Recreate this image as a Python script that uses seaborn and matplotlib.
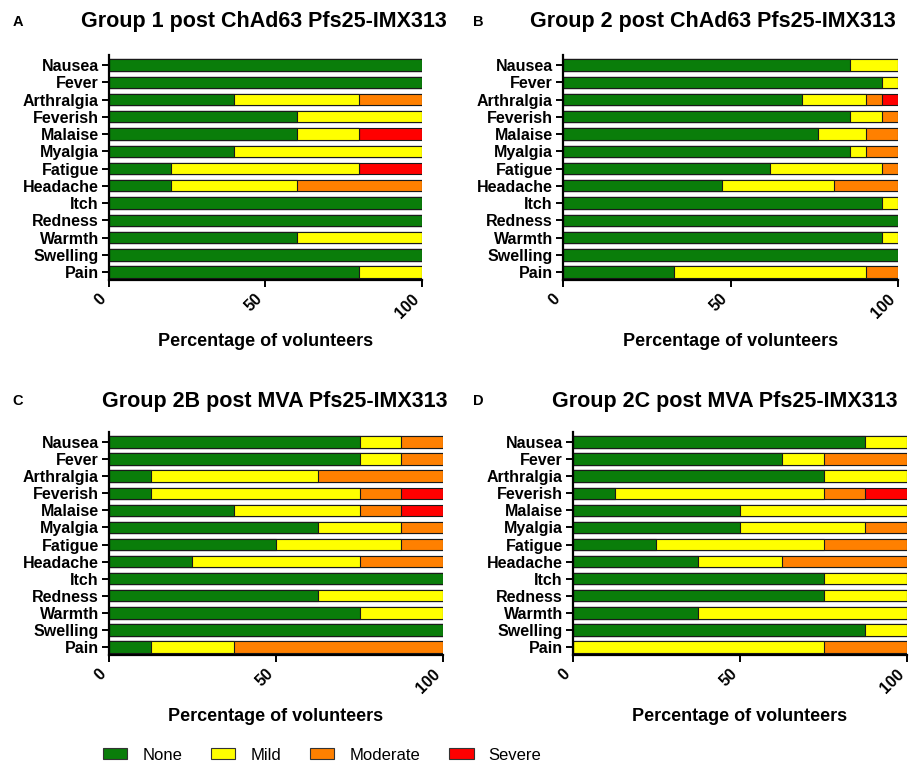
import numpy as np
import pandas as pd
import matplotlib
matplotlib.use("Agg")
import matplotlib.pyplot as plt
from matplotlib.patches import Patch
import seaborn as sns

# Solicited adverse events, percentage of volunteers per maximum severity
symptoms = ["Nausea", "Fever", "Arthralgia", "Feverish", "Malaise", "Myalgia",
            "Fatigue", "Headache", "Itch", "Redness", "Warmth", "Swelling", "Pain"]
severity = ["None", "Mild", "Moderate", "Severe"]
severity_colors = ["#0A7D0A", "#FFFF00", "#FF8000", "#FF0000"]

titles = ["Group 1 post ChAd63 Pfs25-IMX313",
          "Group 2 post ChAd63 Pfs25-IMX313",
          "Group 2B post MVA Pfs25-IMX313",
          "Group 2C post MVA Pfs25-IMX313"]
panel_letters = ["A", "B", "C", "D"]

# Group 1 (ChAd63)
g1_none     = [100, 100, 40, 60, 60, 40, 20, 20, 100, 100, 60, 100, 80]
g1_mild     = [0, 0, 40, 40, 20, 60, 60, 40, 0, 0, 40, 0, 20]
g1_moderate = [0, 0, 20, 0, 0, 0, 0, 40, 0, 0, 0, 0, 0]
g1_severe   = [0, 0, 0, 0, 20, 0, 20, 0, 0, 0, 0, 0, 0]

# Group 2 (ChAd63)
g2_none     = [85.7, 95.2, 71.4, 85.7, 76.2, 85.7, 61.9, 47.6, 95.2, 100, 95.2, 100, 33.3]
g2_mild     = [14.3, 4.8, 19.0, 9.5, 14.3, 4.8, 33.3, 33.3, 4.8, 0, 4.8, 0, 57.1]
g2_moderate = [0, 0, 4.8, 4.8, 9.5, 9.5, 4.8, 19.1, 0, 0, 0, 0, 9.6]
g2_severe   = [0, 0, 4.8, 0, 0, 0, 0, 0, 0, 0, 0, 0, 0]

# Group 2B (MVA)
g2b_none     = [75, 75, 12.5, 12.5, 37.5, 62.5, 50, 25, 100, 62.5, 75, 100, 12.5]
g2b_mild     = [12.5, 12.5, 50, 62.5, 37.5, 25, 37.5, 50, 0, 37.5, 25, 0, 25]
g2b_moderate = [12.5, 12.5, 37.5, 12.5, 12.5, 12.5, 12.5, 25, 0, 0, 0, 0, 62.5]
g2b_severe   = [0, 0, 0, 12.5, 12.5, 0, 0, 0, 0, 0, 0, 0, 0]

# Group 2C (MVA)
g2c_none     = [87.5, 62.5, 75, 12.5, 50, 50, 25, 37.5, 75, 75, 37.5, 87.5, 0]
g2c_mild     = [12.5, 12.5, 25, 62.5, 50, 37.5, 50, 25, 25, 25, 62.5, 12.5, 75]
g2c_moderate = [0, 25, 0, 12.5, 0, 12.5, 25, 37.5, 0, 0, 0, 0, 25]
g2c_severe   = [0, 0, 0, 12.5, 0, 0, 0, 0, 0, 0, 0, 0, 0]

groups = [
    (g1_none, g1_mild, g1_moderate, g1_severe),
    (g2_none, g2_mild, g2_moderate, g2_severe),
    (g2b_none, g2b_mild, g2b_moderate, g2b_severe),
    (g2c_none, g2c_mild, g2c_moderate, g2c_severe),
]

sns.set_style("ticks")
plt.rcParams["font.family"] = ["Liberation Sans", "DejaVu Sans"]
plt.rcParams.update({
    "axes.linewidth": 1.6,
    "axes.edgecolor": "black",
    "text.color": "black",
    "axes.labelcolor": "black",
    "xtick.color": "black",
    "ytick.color": "black",
})

W, H = 915, 761
fig = plt.figure(figsize=(W / 100, H / 100), dpi=100)

# axes boxes in pixels: left, top, right, bottom
boxes = [(108.7, 55, 421.7, 280),
         (562.7, 55, 898.3, 280),
         (108.7, 432, 443.3, 655),
         (572.7, 432, 907.3, 655)]
title_pos = [(264, 22), (713, 22), (275, 401), (725, 401)]
letter_pos = [(18, 22), (478, 22), (18, 401), (478, 401)]

for i, (vals, box) in enumerate(zip(groups, boxes)):
    l, t, r, b = box
    ax = fig.add_axes([l / W, 1 - b / H, (r - l) / W, (b - t) / H])
    df = pd.DataFrame({"Symptom": symptoms})
    cum = np.zeros(len(symptoms))
    for name, v in zip(severity, vals):
        cum = cum + np.asarray(v, dtype=float)
        df[name] = np.minimum(cum, 100)
    # stacked bars: draw cumulative totals from the outermost category inward
    for name, col in reversed(list(zip(severity, severity_colors))):
        sns.barplot(data=df, x=name, y="Symptom", order=symptoms, orient="h",
                    color=col, saturation=1, edgecolor="#1a1a1a", linewidth=0.8,
                    width=0.66, errorbar=None, ax=ax)
    ax.set_xlim(0, 100)
    ax.set_ylim(12.46, -0.58)
    ax.set_xticks([0, 50, 100])
    ax.set_xticklabels(["0", "50", "100"], rotation=45, ha="right",
                       fontsize=11.5, fontweight="bold")
    ax.set_yticks(range(len(symptoms)))
    ax.set_yticklabels(symptoms, fontsize=11.5, fontweight="bold")
    ax.tick_params(axis="y", length=5, width=1.4, pad=2)
    ax.tick_params(axis="x", length=5, width=1.4, pad=3)
    ax.set_ylabel("")
    ax.set_xlabel("Percentage of volunteers", fontsize=13, fontweight="bold",
                  labelpad=9)
    sns.despine(ax=ax)
    tx, ty = title_pos[i]
    fig.text(tx / W, 1 - ty / H, titles[i], ha="center", va="center",
             fontsize=15.5, fontweight="bold")
    lx, ly = letter_pos[i]
    fig.text(lx / W, 1 - ly / H, panel_letters[i], ha="center", va="center",
             fontsize=10.5, fontweight="bold")

handles = [Patch(facecolor=c, edgecolor="#333333", linewidth=0.8)
           for c in severity_colors]
fig.legend(handles, severity, loc="center left",
           bbox_to_anchor=(103 / W, 1 - 755 / H), ncol=4, frameon=False,
           fontsize=12, handlelength=1.45, handleheight=0.65,
           handletextpad=0.9, columnspacing=1.75, borderaxespad=0, borderpad=0)

fig.savefig("out.png", dpi=100)
